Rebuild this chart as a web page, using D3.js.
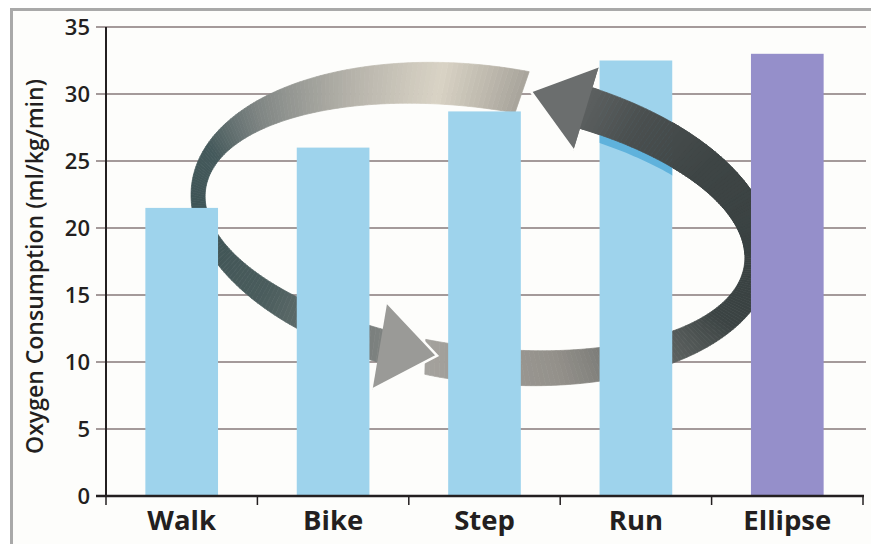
<!DOCTYPE html>
<html>
<head>
<meta charset="utf-8">
<script src="https://cdn.jsdelivr.net/npm/d3@7"></script>
<style>
  html, body { margin: 0; padding: 0; background: #ffffff; }
  svg { display: block; }
  text { font-family: "Open Sans", "Noto Sans", sans-serif; fill: #231f20; }
</style>
</head>
<body>
<svg id="chart" width="871" height="544"></svg>
<script>
// ---- data ----
const categories = ["Walk", "Bike", "Step", "Run", "Ellipse"];
const values = [21.5, 26.0, 28.7, 32.5, 33.0];
const barColors = ["#9ed3ec", "#9ed3ec", "#9ed3ec", "#9ed3ec", "#958fca"];
const yTicks = [0, 5, 10, 15, 20, 25, 30, 35];
const yTitle = "Oxygen Consumption (ml/kg/min)";

// ---- layout ----
const W = 871, H = 544;
const plot = { left: 106, right: 863, top: 27, bottom: 496 };
const svg = d3.select("#chart");

// background + frame
svg.append("rect").attr("x", 0).attr("y", 0).attr("width", W).attr("height", H).attr("fill", "#ffffff");
svg.append("rect").attr("x", 11.5).attr("y", 9.5).attr("width", W + 20).attr("height", H + 20)
  .attr("fill", "#fdfdfb").attr("stroke", "#a9a9a9").attr("stroke-width", 3);

const x = d3.scaleBand().domain(categories).range([plot.left, plot.right])
  .paddingInner(0.52).paddingOuter(0.26);
const y = d3.scaleLinear().domain([0, 35]).range([plot.bottom, plot.top]);

// gridlines (with little tick extension left of the axis)
svg.append("g").selectAll("line").data(yTicks.filter(d => d > 0)).join("line")
  .attr("x1", plot.left - 10).attr("x2", 866)
  .attr("y1", d => y(d)).attr("y2", d => y(d))
  .attr("stroke", "#86797a").attr("stroke-width", 1.4);

// ---- decorative cycle arrows ----
const deg = Math.PI / 180;
const outerE = { cx: 482, cy: 224, rx: 293, ry: 158, rot: 8 * deg };
const innerE = { cx: 475, cy: 227, rx: 272, ry: 119, rot: 8 * deg };
function ep(e, tDeg) {
  const t = tDeg * deg, c = Math.cos(t), s = Math.sin(t);
  const cr = Math.cos(e.rot), sr = Math.sin(e.rot);
  return [e.cx + e.rx * c * cr - e.ry * s * sr, e.cy + e.rx * c * sr + e.ry * s * cr];
}
function mid(t) { const a = ep(outerE, t), b = ep(innerE, t); return [(a[0] + b[0]) / 2, (a[1] + b[1]) / 2]; }

function bandPolys(t0, t1) {
  const polys = [];
  const step = 1;
  for (let t = t0; t > t1; t -= step) {
    const ta = t, tb = Math.max(t - step, t1);
    polys.push({ t: (ta + tb) / 2, pts: [ep(outerE, ta), ep(outerE, tb), ep(innerE, tb), ep(innerE, ta)] });
  }
  return polys;
}
function bandOutline(t0, t1) {
  const pts = [];
  for (let t = t0; t >= t1; t -= 1) pts.push(ep(outerE, t));
  pts.push(ep(outerE, t1));
  for (let t = t1; t <= t0; t += 1) pts.push(ep(innerE, t));
  pts.push(ep(innerE, t0));
  return pts;
}
function head(t1, turn, len, half) {
  const M = mid(t1), N = mid(t1 - 0.5);
  let dx = N[0] - M[0], dy = N[1] - M[1];
  const L = Math.hypot(dx, dy); dx /= L; dy /= L;
  const a = Math.atan2(dy, dx) + turn;
  dx = Math.cos(a); dy = Math.sin(a);
  const nx = -dy, ny = dx;
  const base = [M[0] - dx * 3, M[1] - dy * 3];
  return {
    b1: [base[0] + nx * half, base[1] + ny * half],
    b2: [base[0] - nx * half, base[1] - ny * half],
    tip: [M[0] + dx * len, M[1] + dy * len]
  };
}
const line = d3.line();

const arrow1Color = d3.scaleLinear()
  .domain([275, 258, 240, 215, 195, 165, 135, 106])
  .range(["#a8a49b", "#d9d3c5", "#b7b4ab", "#808684", "#44595b", "#3d5254", "#4b5d5d", "#7f8381"]);
const arrow2Color = d3.scaleLinear()
  .domain([97, 70, 48, 25, 0, -40, -60, -72])
  .range(["#a4a29d", "#94918b", "#646866", "#3b4343", "#394141", "#3e4545", "#4a4f4f", "#5c6060"]);

const arrowsG = svg.append("g");
function drawBand(g, t0, t1, colorFn) {
  g.append("g").selectAll("path").data(bandPolys(t0, t1)).join("path")
    .attr("d", d => line(d.pts) + "Z")
    .attr("fill", d => colorFn(d.t)).attr("stroke", d => colorFn(d.t)).attr("stroke-width", 0.7);
}
function drawHead(g, h, fill) {
  g.append("path").attr("d", line([h.b1, h.tip, h.b2]) + "Z").attr("fill", fill);
  g.append("path").attr("d", line([h.b1, h.tip, h.b2])).attr("fill", "none")
    .attr("stroke", "#fdfdfb").attr("stroke-width", 2.5).attr("stroke-linejoin", "miter");
}
const head1 = head(106, -0.11, 55, 44);
const head2 = head(-72, 0, 55, 44);
drawBand(arrowsG, 275, 106, arrow1Color);
drawBand(arrowsG, 97, -72, arrow2Color);
drawHead(arrowsG, head1, "#9a9a97");
drawHead(arrowsG, head2, "#6b6e6e");

// ---- bars ----
svg.append("g").selectAll("rect").data(categories).join("rect")
  .attr("x", d => x(d)).attr("width", x.bandwidth())
  .attr("y", (d, i) => y(values[i])).attr("height", (d, i) => y(0) - y(values[i]))
  .attr("fill", (d, i) => barColors[i]);

// arrow passing in front of the "Run" bar (behind "Ellipse")
const defs = svg.append("defs");
defs.append("clipPath").attr("id", "clipFront").append("rect")
  .attr("x", 0).attr("y", 0).attr("width", x("Ellipse")).attr("height", H);
defs.append("clipPath").attr("id", "clipRun").append("rect")
  .attr("x", x("Run")).attr("y", y(values[3])).attr("width", x.bandwidth()).attr("height", y(0) - y(values[3]));
const shadowG = svg.append("g").attr("clip-path", "url(#clipRun)");
shadowG.append("path").attr("d", line(bandOutline(-5, -72)) + "Z")
  .attr("transform", "translate(2,9)").attr("fill", "#5fb2dc");
const frontG = svg.append("g").attr("clip-path", "url(#clipFront)");
drawBand(frontG, -5, -72, arrow2Color);
drawHead(frontG, head2, "#6b6e6e");

// ---- axes ----
const axisG = svg.append("g");
axisG.append("line").attr("x1", plot.left).attr("x2", plot.left)
  .attr("y1", y(35)).attr("y2", y(0)).attr("stroke", "#231f20").attr("stroke-width", 2);
const bounds = d3.range(categories.length + 1).map(i => plot.left + i * x.step());
axisG.selectAll("line.bt").data(bounds).join("line").attr("class", "bt")
  .attr("x1", d => d).attr("x2", d => d).attr("y1", y(0)).attr("y2", y(0) + 9)
  .attr("stroke", "#231f20").attr("stroke-width", 1.5);
axisG.append("line").attr("x1", plot.left - 10).attr("x2", plot.right + 1)
  .attr("y1", y(0)).attr("y2", y(0)).attr("stroke", "#231f20").attr("stroke-width", 2.6);

// y tick labels
const yAxis = svg.append("g").attr("transform", `translate(${plot.left},0)`)
  .call(d3.axisLeft(y).tickValues(yTicks).tickSize(0).tickPadding(16));
yAxis.select(".domain").remove();
yAxis.selectAll("text").style("font-size", "22px").style("font-weight", 600)
  .style("font-family", "'Open Sans', sans-serif").attr("fill", "#231f20");

// x labels
const xAxis = svg.append("g").attr("transform", `translate(0,${y(0)})`)
  .call(d3.axisBottom(x).tickSize(0).tickPadding(0));
xAxis.select(".domain").remove();
xAxis.selectAll("text").attr("dy", null).attr("y", 34)
  .style("font-size", "27.5px").style("font-weight", 700)
  .style("font-family", "'Open Sans', sans-serif").attr("fill", "#231f20");

// y title
svg.append("text")
  .attr("transform", `translate(43,${(78 + 455) / 2}) rotate(-90)`)
  .attr("text-anchor", "middle")
  .style("font-size", "23px").style("font-weight", 600)
  .text(yTitle);
</script>
</body>
</html>
